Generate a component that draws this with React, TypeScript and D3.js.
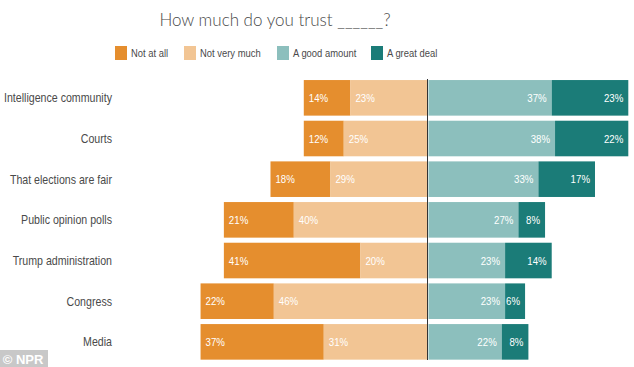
import { scaleBand, scaleLinear } from "d3";

const categories = [
  "Intelligence community",
  "Courts",
  "That elections are fair",
  "Public opinion polls",
  "Trump administration",
  "Congress",
  "Media",
];
const notAtAll = [14, 12, 18, 21, 41, 22, 37];
const notVeryMuch = [23, 25, 29, 40, 20, 46, 31];
const goodAmount = [37, 38, 33, 27, 23, 23, 22];
const greatDeal = [23, 22, 17, 8, 14, 6, 8];

const legendLabels = ["Not at all", "Not very much", "A good amount", "A great deal"];
const colors = ["#e58e2e", "#f2c594", "#8cbfbd", "#1b7c78"];

const W = 634;
const H = 367;
const center = 427.5;
const pxPerPct = 3.33;
const sans = "'Liberation Sans', Arial, sans-serif";

// the source art is squeezed sideways, so text is drawn with a horizontal scale
function NarrowText(props: {
  x: number;
  y: number;
  sx: number;
  size: number;
  anchor?: "start" | "end" | "middle";
  fill: string;
  weight?: string;
  children: any;
}) {
  return (
    <text
      transform={`translate(${props.x}, ${props.y}) scale(${props.sx}, 1)`}
      textAnchor={props.anchor ?? "start"}
      fontFamily={sans}
      fontSize={props.size}
      fontWeight={props.weight ?? "normal"}
      fill={props.fill}
    >
      {props.children}
    </text>
  );
}

export default function App() {
  const y = scaleBand<string>()
    .domain(categories)
    .range([77.5, 362.2])
    .paddingInner(0.125)
    .paddingOuter(0.0625);

  // left side grows leftward from the center line, right side rightward
  const xLeft = scaleLinear().domain([0, 100]).range([center - 0.5, center - 0.5 - 100 * pxPerPct]);
  const xRight = scaleLinear().domain([0, 100]).range([center + 1, center + 1 + 100 * pxPerPct]);

  const legendX = [115, 184, 277, 371];

  return (
    <svg width={W} height={H} style={{ position: "absolute", left: 0, top: 0, background: "#fff" }}>
      <text
        x={275}
        y={26}
        textAnchor="middle"
        fontFamily="Lato, sans-serif"
        fontWeight={300}
        fontSize={17}
        fill="#4a4a4a"
      >
        How much do you trust ______?
      </text>

      {legendLabels.map((lab, i) => (
        <g key={lab} transform={`translate(${legendX[i]}, 46)`}>
          <rect width={12} height={14} fill={colors[i]} />
          <NarrowText x={16} y={11} sx={0.82} size={11.5} fill="#4a4a4a">
            {lab}
          </NarrowText>
        </g>
      ))}

      {categories.map((c, i) => {
        const y0 = y(c) ?? 0;
        const bh = y.bandwidth();
        const mid = y0 + bh / 2;
        const a = notAtAll[i];
        const b = notVeryMuch[i];
        const g = goodAmount[i];
        const d = greatDeal[i];
        const segs = [
          { x0: xLeft(a + b), x1: xLeft(b), v: a, color: colors[0], side: "left" },
          { x0: xLeft(b), x1: xLeft(0), v: b, color: colors[1], side: "left" },
          { x0: xRight(0), x1: xRight(g), v: g, color: colors[2], side: "right" },
          { x0: xRight(g), x1: xRight(g + d), v: d, color: colors[3], side: "right" },
        ];
        return (
          <g key={c}>
            <NarrowText x={112} y={mid + 4.5} sx={0.85} size={12.5} anchor="end" fill="#4a4a4a">
              {c}
            </NarrowText>
            {segs.map((s, j) => (
              <g key={j}>
                <rect x={s.x0} y={y0} width={s.x1 - s.x0} height={bh} fill={s.color} />
                <NarrowText
                  x={s.side === "left" ? s.x0 + 5 : s.x1 - 5}
                  y={mid + 4}
                  sx={0.88}
                  size={11}
                  anchor={s.side === "left" ? "start" : "end"}
                  fill="#fff"
                >
                  {s.v}%
                </NarrowText>
              </g>
            ))}
          </g>
        );
      })}

      <line x1={center} x2={center} y1={79} y2={360} stroke="#333" strokeWidth={1} />

      <rect x={0} y={350} width={48} height={17} fill="#c8c8c8" />
      <NarrowText x={23} y={363.5} sx={1} size={13} anchor="middle" weight="bold" fill="#fff">
        © NPR
      </NarrowText>
    </svg>
  );
}
